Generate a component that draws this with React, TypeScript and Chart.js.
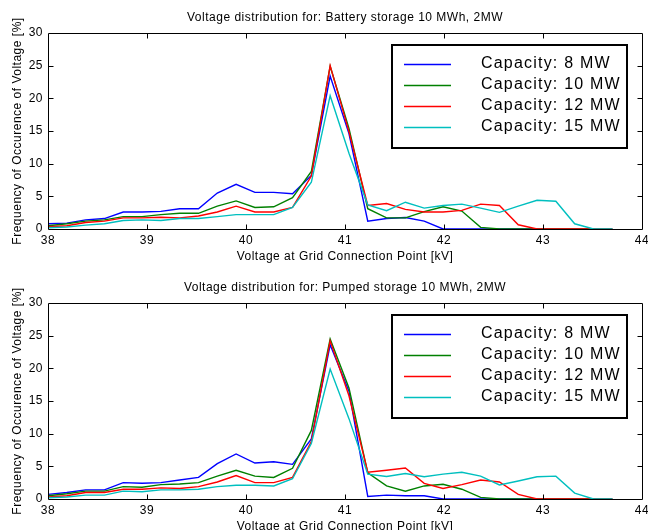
import React, { useEffect, useRef } from "react";
import { Chart, registerables } from "chart.js";

Chart.register(...registerables);

const VOLTAGES = [38.0, 38.19, 38.38, 38.57, 38.76, 38.95, 39.14, 39.33, 39.52, 39.71, 39.9, 40.09, 40.28, 40.47, 40.66, 40.85, 41.04, 41.23, 41.42, 41.61, 41.8, 41.99, 42.18, 42.37, 42.56, 42.75, 42.94, 43.13, 43.32, 43.51, 43.7];

const SERIES_LABELS = ["Capacity: 8 MW", "Capacity: 10 MW", "Capacity: 12 MW", "Capacity: 15 MW"];
const SERIES_COLORS = ["#0000ff", "#008000", "#ff0000", "#00bfbf"];

const TITLE_A = "Voltage distribution for: Battery storage 10 MWh, 2MW";
const TITLE_B = "Voltage distribution for: Pumped storage 10 MWh, 2MW";
const X_TITLE = "Voltage at Grid Connection Point [kV]";
const Y_TITLE = "Frequency of Occurence of Voltage [%]";

// Battery storage
const BATTERY_8MW = [0.8, 0.9, 1.4, 1.6, 2.6, 2.6, 2.7, 3.1, 3.1, 5.5, 6.85, 5.6, 5.6, 5.4, 8.2, 23.4, 14.6, 1.2, 1.6, 1.75, 1.2, 0, 0, 0, 0, 0, 0, 0, 0, 0, 0];
const BATTERY_10MW = [0.5, 0.8, 1.2, 1.4, 1.9, 1.9, 2.2, 2.4, 2.4, 3.5, 4.3, 3.3, 3.4, 4.8, 8.8, 24.9, 15.4, 3.1, 1.7, 1.7, 2.65, 3.4, 2.75, 0.25, 0, 0, 0, 0, 0, 0, 0];
const BATTERY_12MW = [0.35, 0.5, 1.0, 1.2, 1.7, 1.7, 1.8, 1.7, 2.0, 2.6, 3.5, 2.6, 2.6, 3.3, 8.1, 25.0, 14.9, 3.6, 3.9, 3.0, 2.6, 2.6, 2.85, 3.8, 3.6, 0.65, 0, 0, 0, 0, 0];
const BATTERY_15MW = [0.2, 0.3, 0.6, 0.8, 1.3, 1.4, 1.3, 1.6, 1.6, 1.9, 2.2, 2.2, 2.2, 3.3, 7.15, 20.4, 11.6, 3.7, 2.8, 4.1, 3.2, 3.6, 3.8, 3.2, 2.55, 3.5, 4.4, 4.25, 0.8, 0, 0];

// Pumped storage
const PUMPED_8MW = [0.7, 1.0, 1.4, 1.4, 2.5, 2.4, 2.5, 2.9, 3.3, 5.4, 6.9, 5.5, 5.7, 5.3, 9.2, 23.6, 16.5, 0.4, 0.6, 0.5, 0.5, 0, 0, 0, 0, 0, 0, 0, 0, 0, 0];
const PUMPED_10MW = [0.5, 0.8, 1.2, 1.2, 1.9, 1.8, 2.2, 2.3, 2.5, 3.5, 4.4, 3.5, 3.3, 4.7, 10.5, 24.5, 17.0, 4.0, 2.0, 1.2, 2.0, 2.25, 1.5, 0.25, 0, 0, 0, 0, 0, 0, 0];
const PUMPED_12MW = [0.3, 0.5, 1.0, 1.0, 1.5, 1.5, 1.7, 1.6, 1.9, 2.6, 3.6, 2.5, 2.5, 3.3, 8.8, 24.2, 15.8, 4.1, 4.4, 4.75, 2.4, 1.6, 2.2, 2.9, 2.6, 0.7, 0, 0, 0, 0, 0];
const PUMPED_15MW = [0.2, 0.3, 0.6, 0.6, 1.2, 1.1, 1.4, 1.4, 1.5, 1.9, 2.1, 2.1, 2.0, 3.1, 8.5, 19.9, 12.3, 3.8, 3.45, 3.9, 3.4, 3.8, 4.1, 3.5, 2.15, 2.75, 3.4, 3.5, 0.9, 0, 0];

const X_TICKS = [38, 39, 40, 41, 42, 43, 44];
const Y_TICKS = [0, 5, 10, 15, 20, 25, 30];

const FONT = "'Liberation Sans', Arial, Helvetica, sans-serif";

const spacingPlugin = {
  id: "letterSpacing",
  beforeDraw(chart: any) {
    (chart.ctx as any).letterSpacing = "0.5px";
  },
};

const framePlugin = {
  id: "matlabFrame",
  afterDraw(chart: any) {
    const { ctx, chartArea: a, scales } = chart;
    ctx.save();
    ctx.strokeStyle = "#000";
    ctx.lineWidth = 1;
    const L = Math.round(a.left) + 0.5;
    const R = Math.round(a.right) + 0.5;
    const T = Math.round(a.top) + 0.5;
    const B = Math.round(a.bottom) + 0.5;
    ctx.beginPath();
    ctx.rect(L, T, R - L, B - T);
    const tl = 5;
    scales.x.ticks.forEach((t: any) => {
      const px = Math.round(scales.x.getPixelForValue(t.value)) + 0.5;
      if (px <= L + 1 || px >= R - 1) return;
      ctx.moveTo(px, B);
      ctx.lineTo(px, B - tl);
      ctx.moveTo(px, T);
      ctx.lineTo(px, T + tl);
    });
    scales.y.ticks.forEach((t: any) => {
      const py = Math.round(scales.y.getPixelForValue(t.value)) + 0.5;
      if (py <= T + 1 || py >= B - 1) return;
      ctx.moveTo(L, py);
      ctx.lineTo(L + tl, py);
      ctx.moveTo(R, py);
      ctx.lineTo(R - tl, py);
    });
    ctx.stroke();
    ctx.restore();
  },
};

const legendPlugin = {
  id: "matlabLegend",
  afterDraw(chart: any) {
    const { ctx, chartArea: a } = chart;
    const boxW = 235;
    const boxH = 103;
    const x0 = Math.round(a.right) - 15 - boxW;
    const y0 = Math.round(a.top) + 12;
    ctx.save();
    ctx.fillStyle = "#fff";
    ctx.fillRect(x0, y0, boxW, boxH);
    ctx.strokeStyle = "#000";
    ctx.lineWidth = 2;
    ctx.strokeRect(x0, y0, boxW, boxH);
    ctx.font = `16px ${FONT}`;
    (ctx as any).letterSpacing = "1.2px";
    ctx.textBaseline = "middle";
    ctx.textAlign = "left";
    chart.data.datasets.forEach((ds: any, i: number) => {
      const y = y0 + 19 + i * 21;
      ctx.strokeStyle = ds.borderColor;
      ctx.lineWidth = 1.5;
      ctx.beginPath();
      ctx.moveTo(x0 + 12, y + 0.5);
      ctx.lineTo(x0 + 59, y + 0.5);
      ctx.stroke();
      ctx.fillStyle = "#000";
      ctx.fillText(ds.label, x0 + 89, y);
    });
    ctx.restore();
  },
};

function Panel({ title, series, top }: { title: string; series: number[][]; top: number }) {
  const ref = useRef<HTMLCanvasElement | null>(null);
  useEffect(() => {
    if (!ref.current) return;
    const chart = new Chart(ref.current, {
      type: "line",
      data: {
        datasets: series.map((vals, i) => ({
          label: SERIES_LABELS[i],
          data: VOLTAGES.map((v, j) => ({ x: v, y: vals[j] })),
          borderColor: SERIES_COLORS[i],
          backgroundColor: SERIES_COLORS[i],
          borderWidth: 1.4,
          pointRadius: 0,
          tension: 0,
          fill: false,
          order: 4 - i,
        })),
      },
      options: {
        animation: false,
        responsive: false,
        layout: { padding: { left: 0, right: 6, top: 0, bottom: 0 } },
        plugins: {
          legend: { display: false },
          tooltip: { enabled: false },
          title: {
            display: true,
            text: title,
            fullSize: false,
            color: "#000",
            font: { family: FONT, size: 12, weight: "normal" },
            padding: { top: 10, bottom: 8.6 },
          },
        },
        scales: {
          x: {
            type: "linear",
            min: 38,
            max: 44,
            afterBuildTicks: (s: any) => {
              s.ticks = X_TICKS.map((v) => ({ value: v }));
            },
            ticks: {
              color: "#000",
              font: { family: FONT, size: 12 },
              padding: 4,
              maxRotation: 0,
              autoSkip: false,
            },
            grid: { display: false, drawTicks: false },
            border: { display: false },
            title: {
              display: true,
              text: X_TITLE,
              color: "#000",
              font: { family: FONT, size: 12 },
              padding: { top: 0, bottom: 6 },
            },
            afterFit: (s: any) => {
              s.height = 41;
              s.paddingLeft = 0;
              s.paddingRight = 0;
            },
          },
          y: {
            type: "linear",
            min: 0,
            max: 30,
            afterBuildTicks: (s: any) => {
              s.ticks = Y_TICKS.map((v) => ({ value: v }));
            },
            ticks: {
              color: "#000",
              font: { family: FONT, size: 12 },
              padding: 5,
            },
            grid: { display: false, drawTicks: false },
            border: { display: false },
            title: {
              display: true,
              text: Y_TITLE,
              color: "#000",
              font: { family: FONT, size: 12 },
              padding: { top: 10, bottom: 0 },
            },
            afterFit: (s: any) => {
              s.width = 48;
            },
          },
        },
      },
      plugins: [spacingPlugin, framePlugin, legendPlugin],
    } as any);
    return () => chart.destroy();
  }, [title, series]);
  return (
    <canvas
      ref={ref}
      width={648}
      height={270}
      style={{ position: "absolute", left: 0, top, width: 648, height: 270, display: "block" }}
    />
  );
}

const SERIES_A = [BATTERY_8MW, BATTERY_10MW, BATTERY_12MW, BATTERY_15MW];
const SERIES_B = [PUMPED_8MW, PUMPED_10MW, PUMPED_12MW, PUMPED_15MW];

export default function App() {
  return (
    <div style={{ position: "fixed", left: 0, top: 0, width: 648, height: 530, overflow: "hidden", background: "#fff" }}>
      <Panel title={TITLE_A} series={SERIES_A} top={0} />
      <Panel title={TITLE_B} series={SERIES_B} top={270} />
    </div>
  );
}
